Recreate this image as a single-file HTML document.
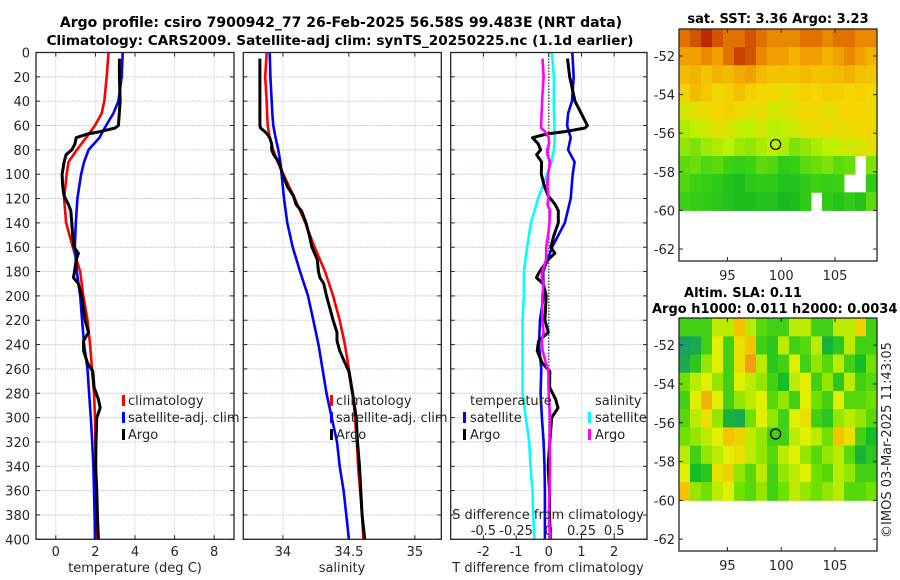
<!DOCTYPE html>
<html><head><meta charset="utf-8"><style>
body{margin:0;background:#fff;}
svg{display:block;font-family:"DejaVu Sans","Liberation Sans",sans-serif;}
text{fill:#262626;font-size:13px;}
.ttl{font-weight:bold;fill:#000;}
</style></head><body>
<svg id="fig" width="900" height="580" viewBox="0 0 900 580" xmlns="http://www.w3.org/2000/svg">
<text class="ttl" x="341" y="27" text-anchor="middle" style="font-size:14px">Argo profile: csiro 7900942_77 26-Feb-2025 56.58S 99.483E (NRT data)</text>
<text class="ttl" x="340" y="45" text-anchor="middle" style="font-size:13.6px">Climatology: CARS2009. Satellite-adj clim: synTS_20250225.nc (1.1d earlier)</text>
<text class="ttl" x="778" y="23" text-anchor="middle">sat. SST: 3.36 Argo: 3.23</text>
<text class="ttl" x="743" y="297" text-anchor="middle">Altim. SLA: 0.11</text>
<text class="ttl" x="652" y="313">Argo h1000: 0.011 h2000: 0.0034</text>
<text x="0" y="0" transform="translate(891,440) rotate(-90)" text-anchor="middle">©IMOS 03-Mar-2025 11:43:05</text>
<g id="g"></g>
</svg>
<script>
// ---- profile data ----
const climDepth=[0,20,40,50,60,70,80,90,100,120,140,160,180,200,220,240,260,280,300,320,340,360,380,400];
const tempClim=[2.66,2.57,2.45,2.32,1.98,1.53,1.06,0.64,0.55,0.42,0.52,0.86,1.23,1.39,1.6,1.73,1.83,1.93,1.98,2.0,2.03,2.05,2.08,2.1];
const tempSat=[3.38,3.33,3.16,2.91,2.54,2.2,1.65,1.43,1.28,1.09,1.01,0.96,1.06,1.23,1.33,1.43,1.6,1.68,1.77,1.84,1.9,1.93,1.96,1.98];
const salClim=[33.877,33.866,33.877,33.88,33.885,33.9,33.927,33.96,34.003,34.09,34.17,34.24,34.32,34.38,34.43,34.47,34.5,34.53,34.546,34.56,34.57,34.585,34.6,34.61];
const salSat=[33.9,33.905,33.915,33.92,33.927,33.945,33.965,33.98,33.99,34.008,34.033,34.074,34.13,34.19,34.23,34.27,34.3,34.33,34.37,34.41,34.43,34.46,34.48,34.5];
const argoDepth=[5,20,40,60,62,65,67,70,75,80,84,90,100,110,118,125,130,140,150,160,165,170,180,185,190,200,220,230,237,245,255,262,275,285,292,300,320,340,360,380,400];
const argoTemp=[3.21,3.21,3.25,3.16,3.0,2.24,1.6,1.03,0.97,0.81,0.52,0.42,0.32,0.35,0.42,0.64,0.76,0.81,0.85,0.92,1.14,1.03,0.95,0.89,1.14,1.31,1.48,1.65,1.4,1.4,1.6,1.87,1.93,2.15,2.24,2.07,2.03,2.01,2.07,2.1,2.15];
const argoSal=[33.826,33.826,33.826,33.826,33.83,33.864,33.88,33.9,33.915,33.915,33.93,33.97,33.998,34.033,34.08,34.1,34.14,34.175,34.2,34.22,34.24,34.26,34.27,34.28,34.31,34.33,34.38,34.41,34.41,34.43,34.47,34.5,34.52,34.535,34.545,34.555,34.565,34.58,34.59,34.6,34.62];
const depthTicks=[0,20,40,60,80,100,120,140,160,180,200,220,240,260,280,300,320,340,360,380,400];
const tempTicks=[0,2,4,6,8];
const salTicks=[34,34.5,35];
const salTickLabels=["34","34.5","35"];
const dTTicks=[-2,-1,0,1,2];
const dSTicks=[-0.5,-0.25,0,0.25,0.5];
const dSTickLabels=["-0.5","-0.25","0","0.25","0.5"];
// ---- map data ----
const sstGrid=[
[0.85,0.9,0.95,0.9,0.85,0.85,0.9,0.85,0.8,0.8,0.8,0.85,0.85,0.8,0.85,0.85,0.8,0.8],
[0.75,0.75,0.8,0.75,0.85,0.92,0.9,0.8,0.75,0.75,0.7,0.75,0.75,0.7,0.75,0.8,0.75,0.7],
[0.68,0.7,0.65,0.7,0.68,0.72,0.75,0.68,0.65,0.66,0.65,0.68,0.65,0.66,0.68,0.7,0.66,0.65],
[0.62,0.68,0.64,0.6,0.62,0.66,0.62,0.6,0.6,0.56,0.58,0.62,0.6,0.63,0.62,0.6,0.62,0.6],
[0.5,0.55,0.58,0.6,0.62,0.58,0.55,0.56,0.5,0.52,0.56,0.6,0.58,0.55,0.58,0.6,0.6,0.58],
[0.42,0.45,0.5,0.55,0.52,0.46,0.45,0.5,0.44,0.45,0.48,0.55,0.56,0.58,0.56,0.58,0.6,0.6],
[0.38,0.35,0.4,0.42,0.45,0.4,0.38,0.42,0.45,0.42,0.35,0.38,0.42,0.45,0.48,0.5,0.52,0.55],
[0.3,0.32,0.28,0.3,0.25,0.22,0.25,0.3,0.28,0.2,0.22,0.3,0.32,0.35,0.3,0.32,-1,0.35],
[0.28,0.25,0.22,0.2,0.15,0.12,0.18,0.2,0.2,0.15,0.15,0.2,0.25,0.22,0.25,-1,-1,0.2],
[0.25,0.22,0.2,0.18,0.15,0.12,0.12,0.15,0.15,0.1,0.12,0.2,-1,0.2,0.15,0.2,0.15,0.3]];
const slaGrid=[
[0.3,0.3,0.3,0.5,0.5,0.7,0.5,0.35,0.3,0.3,0.5,0.5,0.3,0.3,0.5,0.5,0.65,0.3],
[0.05,0.1,0.3,0.55,0.3,0.6,0.7,0.3,0.25,0.5,0.3,0.35,0.5,0.15,0.25,0.5,0.3,0.3],
[0.1,0.25,0.45,0.55,0.3,0.6,0.8,0.5,0.25,0.3,0.55,0.3,0.45,0.35,0.5,0.3,0.2,0.4],
[0.4,0.5,0.55,0.45,0.3,0.55,0.5,0.45,0.3,0.2,0.5,0.55,0.3,0.45,0.25,0.5,0.3,0.35],
[0.3,0.55,0.75,0.55,0.3,0.45,0.5,0.55,0.35,0.45,0.3,0.55,0.4,0.3,0.55,0.35,0.35,0.4],
[0.35,0.5,0.6,0.45,0.15,0.1,0.4,0.55,0.45,0.3,0.55,0.6,0.3,0.25,0.45,0.5,0.45,0.35],
[0.4,0.45,0.5,0.55,0.7,0.65,0.5,0.45,0.3,0.3,0.5,0.55,0.5,0.4,0.7,0.6,0.3,0.2],
[0.5,0.3,0.45,0.5,0.55,0.6,0.5,0.45,0.35,0.5,0.55,0.45,0.35,0.45,0.5,0.35,0.15,0.25],
[0.55,0.2,0.25,0.6,0.65,0.45,0.35,0.5,0.3,0.45,0.5,0.55,0.4,0.35,0.5,0.45,0.3,0.3],
[0.7,0.45,0.4,0.5,0.55,0.4,0.35,0.45,0.3,0.4,0.5,0.45,0.4,0.45,0.5,0.35,0.35,0.4]];
const latTicks=[-52,-54,-56,-58,-60,-62];
const lonTicks=[95,100,105];
const argoLon=99.48, argoLat=-56.58;

const NS="http://www.w3.org/2000/svg";
const G=document.getElementById('g');
function mk(tag,attrs,parent){const e=document.createElementNS(NS,tag);for(const k in attrs)e.setAttribute(k,attrs[k]);(parent||G).appendChild(e);return e;}
const yD=d=>52.5+d*(539.3-52.5)/400;
const xT=t=>36+(t+1)*19.8;
const xS=s=>243.3+(s-33.7)*132;
const xDT=v=>450.7+(v+3)*32.7;
const xDS=v=>xDT(v*4);
function interp(xs,ys,x){for(let i=0;i<xs.length-1;i++){if(x<=xs[i+1]){const f=(x-xs[i])/(xs[i+1]-xs[i]);return ys[i]+f*(ys[i+1]-ys[i]);}}return ys[ys.length-1];}

const panels=[{x0:36,x1:234,name:'temperature'},{x0:243.3,x1:441.3,name:'salinity'},{x0:450.7,x1:647,name:'difference'}];
panels.forEach((p,pi)=>{
  const grid=mk('g',{});
  
  
  depthTicks.forEach(d=>{
    mk('line',{x1:p.x0,x2:p.x1,y1:yD(d),y2:yD(d),stroke:'#c3cbe6','stroke-width':1,'stroke-dasharray':'2,1'},grid);
    mk('line',{x1:p.x0,x2:p.x0+4,y1:yD(d),y2:yD(d),stroke:'#262626','stroke-width':1},grid);
    mk('line',{x1:p.x1-4,x2:p.x1,y1:yD(d),y2:yD(d),stroke:'#262626','stroke-width':1},grid);
    if(pi===0){const t=mk('text',{x:30,y:yD(d)+5,'text-anchor':'end'});t.textContent=d;
      
      }
  });
});
function vgrid(xs,xf,labels,ly){
  xs.forEach((v,i)=>{const x=xf(v);
    mk('line',{x1:x,x2:x,y1:52.5,y2:539.3,stroke:'#d6c6d8','stroke-width':1,'stroke-dasharray':'1,1'});
    mk('line',{x1:x,x2:x,y1:535.3,y2:539.3,stroke:'#262626'});
    mk('line',{x1:x,x2:x,y1:52.5,y2:56.5,stroke:'#262626'});
    if(labels){const t=mk('text',{x:x,y:ly,'text-anchor':'middle'});t.textContent=labels[i];
      
      }
  });
}
vgrid(tempTicks,xT,tempTicks,556);
vgrid(salTicks,xS,salTickLabels,556);
vgrid(dTTicks,xDT,dTTicks,556);
dSTicks.forEach((v,i)=>{const t=mk('text',{x:xDS(v),y:535,'text-anchor':'middle'});t.textContent=dSTickLabels[i];
  
  });
mk('line',{x1:xDT(0),x2:xDT(0),y1:52.5,y2:539.3,stroke:'#333','stroke-width':1.2,'stroke-dasharray':'1.5,1.5'});

function line(xs,ds,xf,color,w,name){
  const pts=xs.map((v,i)=>xf(v).toFixed(1)+','+yD(ds[i]).toFixed(1)).join(' ');
  const e=mk('polyline',{points:pts,fill:'none',stroke:color,'stroke-width':w,'stroke-linejoin':'round'});
  
  
}
line(tempClim,climDepth,xT,'#ff0000',2.6,'temp-climatology-line');
line(tempSat,climDepth,xT,'#0000ff',2.6,'temp-satellite-line');
line(argoTemp,argoDepth,xT,'#000',3,'temp-argo-line');
line(salClim,climDepth,xS,'#ff0000',2.6,'sal-climatology-line');
line(salSat,climDepth,xS,'#0000ff',2.6,'sal-satellite-line');
line(argoSal,argoDepth,xS,'#000',3,'sal-argo-line');
const dSatS=salSat.map((v,i)=>v-salClim[i]);
const dArgoS=argoSal.map((v,i)=>v-interp(climDepth,salClim,argoDepth[i]));
const dSatT=tempSat.map((v,i)=>v-tempClim[i]);
const dArgoT=argoTemp.map((v,i)=>v-interp(climDepth,tempClim,argoDepth[i]));
line(dSatS,climDepth,xDS,'#00ffff',2.6,'sal-diff-satellite-line');
line(dSatT,climDepth,xDT,'#0000ff',2.6,'temp-diff-satellite-line');
line(dArgoT,argoDepth,xDT,'#000',3,'temp-diff-argo-line');
line(dArgoS,argoDepth,xDS,'#ff00ff',2.6,'sal-diff-argo-line');

panels.forEach(p=>{const r=mk('rect',{x:p.x0,y:52.5,width:p.x1-p.x0,height:539.3-52.5,fill:'none',stroke:'#262626','stroke-width':1.3});
  
  });

function txt(x,y,s,name,anchor){const t=mk('text',{x:x,y:y,'text-anchor':anchor||'start'});t.textContent=s;
  
  return t;}
txt(135,572,'temperature (deg C)','temp-x-axis-title','middle');
txt(342,572,'salinity','sal-x-axis-title','middle');
txt(548,572,'T difference from climatology','tdiff-x-axis-title','middle');
txt(548,519,'S difference from climatology','sdiff-axis-title','middle');

function legend(x,items){items.forEach((it,i)=>{const y=405+i*17;
  const m=mk('rect',{x:x,y:y-10,width:3,height:11,fill:it[1]});
  
  
  txt(x+6,y,it[0],'legend-entry');});}
legend(122,[['climatology','#ff0000'],['satellite-adj. clim','#0000ff'],['Argo','#000']]);
legend(330,[['climatology','#ff0000'],['satellite-adj. clim','#0000ff'],['Argo','#000']]);
txt(470,405,'temperature','legend-title-temperature');
txt(595,405,'salinity','legend-title-salinity');
(function(){[[463,'satellite','#0000ff',1],[463,'Argo','#000',2],[588,'satellite','#00ffff',1],[588,'Argo','#ff00ff',2]].forEach(a=>{
  const y=405+a[3]*17;const m=mk('rect',{x:a[0],y:y-10,width:3,height:11,fill:a[2]});
  
  
  txt(a[0]+7,y,a[1],'legend-entry');});})();

// ---- maps ----
function color(v,stops){for(let i=0;i<stops.length-1;i++){if(v<=stops[i+1][0]){const f=(v-stops[i][0])/(stops[i+1][0]-stops[i][0]);const a=stops[i][1],b=stops[i+1][1];return 'rgb('+a.map((c,k)=>Math.round(c+f*(b[k]-c))).join(',')+')';}}return 'rgb('+stops[stops.length-1][1].join(',')+')';}
const sstStops=[[0,[0,170,40]],[0.25,[60,210,20]],[0.45,[190,240,0]],[0.6,[245,215,0]],[0.75,[240,160,0]],[0.88,[220,100,0]],[1,[160,0,0]]];
const slaStops=[[0,[30,150,120]],[0.2,[20,190,40]],[0.4,[110,225,0]],[0.55,[225,240,0]],[0.7,[245,195,0]],[0.85,[240,140,30]]];
function map(y0,y1,grid,stops,name){
  const x0=679,x1=877,lon0=90.5,lon1=108.9,lat0=-50.6;
  const xm=lon=>x0+(lon-lon0)*(x1-x0)/(lon1-lon0);
  const ym=lat=>y0+(lat0-lat)*(name==='sst'?19.3:19.4);
  const g=mk('g',{});
  
  
  const nr=grid.length,nc=grid[0].length,dl=(lat0+60)/nr,dn=(lon1-lon0)/nc;
  grid.forEach((row,r)=>row.forEach((v,c)=>{if(v<0)return;
    const cx=xm(lon0+c*dn),cy=ym(lat0-r*dl);
    const e=mk('rect',{x:cx,y:cy,width:xm(lon0+(c+1)*dn)-cx+0.5,height:ym(lat0-(r+1)*dl)-cy+0.5,fill:color(v,stops)},g);
    
    }));
  const ci=mk('circle',{cx:xm(argoLon),cy:ym(argoLat),r:5,fill:'none',stroke:'#000','stroke-width':1.2});
  
  
  latTicks.forEach(l=>{mk('line',{x1:x0,x2:x0+4,y1:ym(l),y2:ym(l),stroke:'#262626'});mk('line',{x1:x1-4,x2:x1,y1:ym(l),y2:ym(l),stroke:'#262626'});
    txt(675,ym(l)+5,l,name+'-lat-tick-label','end');});
  lonTicks.forEach(l=>{mk('line',{x1:xm(l),x2:xm(l),y1:y1-4,y2:y1,stroke:'#262626'});mk('line',{x1:xm(l),x2:xm(l),y1:y0,y2:y0+4,stroke:'#262626'});
    txt(xm(l),y1+19,l,name+'-lon-tick-label','middle');});
  const b=mk('rect',{x:x0,y:y0,width:x1-x0,height:y1-y0,fill:'none',stroke:'#262626','stroke-width':1.3});
  
  
}
map(29,261,sstGrid,sstStops,'sst');
map(318,551,slaGrid,slaStops,'sla');
</script>
</body></html>
